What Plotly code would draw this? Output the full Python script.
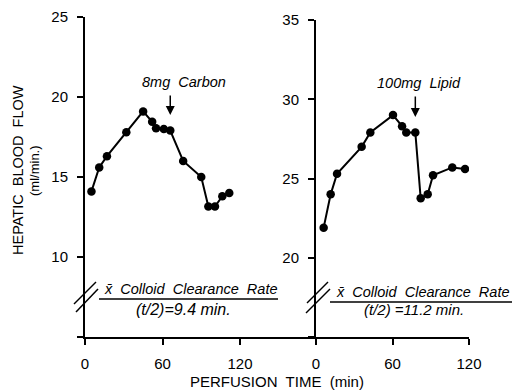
import plotly.graph_objects as go

W, H = 512, 390

# ---- data ----
carbon_time = [5, 11, 17, 32, 45, 52, 55, 61, 66, 76, 90, 95.5, 100.6, 106.3, 111.7]
carbon_flow = [14.1, 15.6, 16.3, 17.8, 19.1, 18.45, 18.05, 18.0, 17.9, 16.0, 15.0, 13.15, 13.15, 13.8, 14.0]
lipid_time = [6, 11.5, 16.5, 35.8, 42.6, 60.4, 67.5, 70.8, 77.9, 82.1, 87.6, 91.8, 106.9, 116.9]
lipid_flow = [21.9, 24.0, 25.3, 27.0, 27.9, 29.0, 28.3, 27.9, 27.9, 23.75, 24.0, 25.2, 25.7, 25.6]
x_ticks = [0, 60, 120]
left_yticks = [5, 10, 15, 20, 25]
left_ylabels = ["", "10", "15", "20", "25"]
right_yticks = [15, 20, 25, 30, 35]
right_ylabels = ["", "20", "25", "30", "35"]


def PX(px):
    return px / W


def PY(py):
    return 1 - py / H


FONT = "Liberation Sans"

fig = go.Figure()
fig.add_trace(go.Scatter(x=carbon_time, y=carbon_flow, mode="lines+markers",
                         line=dict(color="black", width=2),
                         marker=dict(color="black", size=8.5),
                         xaxis="x", yaxis="y", showlegend=False))
fig.add_trace(go.Scatter(x=lipid_time, y=lipid_flow, mode="lines+markers",
                         line=dict(color="black", width=2),
                         marker=dict(color="black", size=8.5),
                         xaxis="x2", yaxis="y2", showlegend=False))

axis_common = dict(showline=True, linecolor="black", linewidth=2, ticks="outside",
                   ticklen=6, tickwidth=2, tickcolor="black", showgrid=False,
                   zeroline=False, automargin=False,
                   tickfont=dict(family=FONT, size=15, color="black"),
                   ticklabelstandoff=6)

fig.update_layout(
    width=W, height=H, margin=dict(l=0, r=0, t=0, b=0),
    paper_bgcolor="white", plot_bgcolor="white",
    xaxis=dict(domain=[PX(85), PX(316)], range=[0, 231 / 1.2917],
               tickvals=x_ticks, ticktext=[str(v) for v in x_ticks],
               anchor="y", **axis_common),
    yaxis=dict(domain=[PY(337), PY(17)], range=[5, 25],
               tickvals=left_yticks, ticktext=left_ylabels,
               anchor="x", **axis_common),
    xaxis2=dict(domain=[PX(316), PX(469)], range=[0, 120],
                tickvals=x_ticks, ticktext=[str(v) for v in x_ticks],
                anchor="y2", **axis_common),
    yaxis2=dict(domain=[PY(337), PY(20)], range=[15, 35],
                tickvals=right_yticks, ticktext=right_ylabels,
                anchor="x2", **axis_common),
)

shapes = []
# axis break marks
for (x0, y0, x1, y1) in [(96, 282, 74, 304), (98, 289, 76, 312),
                         (328, 282, 307, 303), (330, 289, 306, 313)]:
    shapes.append(dict(type="line", xref="paper", yref="paper",
                       x0=PX(x0), y0=PY(y0), x1=PX(x1), y1=PY(y1),
                       line=dict(color="black", width=1.5)))
# fraction bars
shapes.append(dict(type="line", xref="paper", yref="paper",
                   x0=PX(99), x1=PX(278), y0=PY(299), y1=PY(299),
                   line=dict(color="black", width=1.5)))
shapes.append(dict(type="line", xref="paper", yref="paper",
                   x0=PX(330), x1=PX(512), y0=PY(302), y1=PY(302),
                   line=dict(color="black", width=1.5)))
fig.update_layout(shapes=shapes)

ann = []


def txt(text, x, y, size=14, angle=0, italic=False):
    t = f"<i>{text}</i>" if italic else text
    ann.append(dict(text=t, x=PX(x), y=PY(y), xref="paper", yref="paper",
                    xanchor="center", yanchor="middle", showarrow=False,
                    textangle=angle, font=dict(family=FONT, size=size, color="black")))


txt("8mg  Carbon", 184, 82, 14.5, italic=True)
txt("100mg  Lipid", 419, 83, 14.5, italic=True)
txt("x\u0304  Colloid  Clearance  Rate", 190, 289, 14.5, italic=True)
txt("(t/2)=9.4 min.", 183, 309, 16, italic=True)
txt("x\u0304  Colloid  Clearance  Rate", 422, 292, 14.5, italic=True)
txt("(t/2) =11.2 min.", 414, 309, 15, italic=True)
txt("HEPATIC  BLOOD  FLOW", 18, 170, 14.5, angle=-90)
txt("(ml/min.)", 34, 171, 13, angle=-90)
txt("PERFUSION  TIME  (min)", 277, 381, 15)

# arrows
ann.append(dict(text="", x=66, y=25 - (115 - 17) / 16, xref="x", yref="y",
                ax=0, ay=-21, showarrow=True, arrowhead=2, arrowsize=1.2,
                arrowwidth=1.5, arrowcolor="black"))
ann.append(dict(text="", x=77.9, y=35 - (117 - 20) / 15.87, xref="x2", yref="y2",
                ax=0, ay=-22, showarrow=True, arrowhead=2, arrowsize=1.2,
                arrowwidth=1.5, arrowcolor="black"))
fig.update_layout(annotations=ann)

fig.write_html("out.html", config={"displayModeBar": False},
               post_script="document.body.style.margin='0';")
